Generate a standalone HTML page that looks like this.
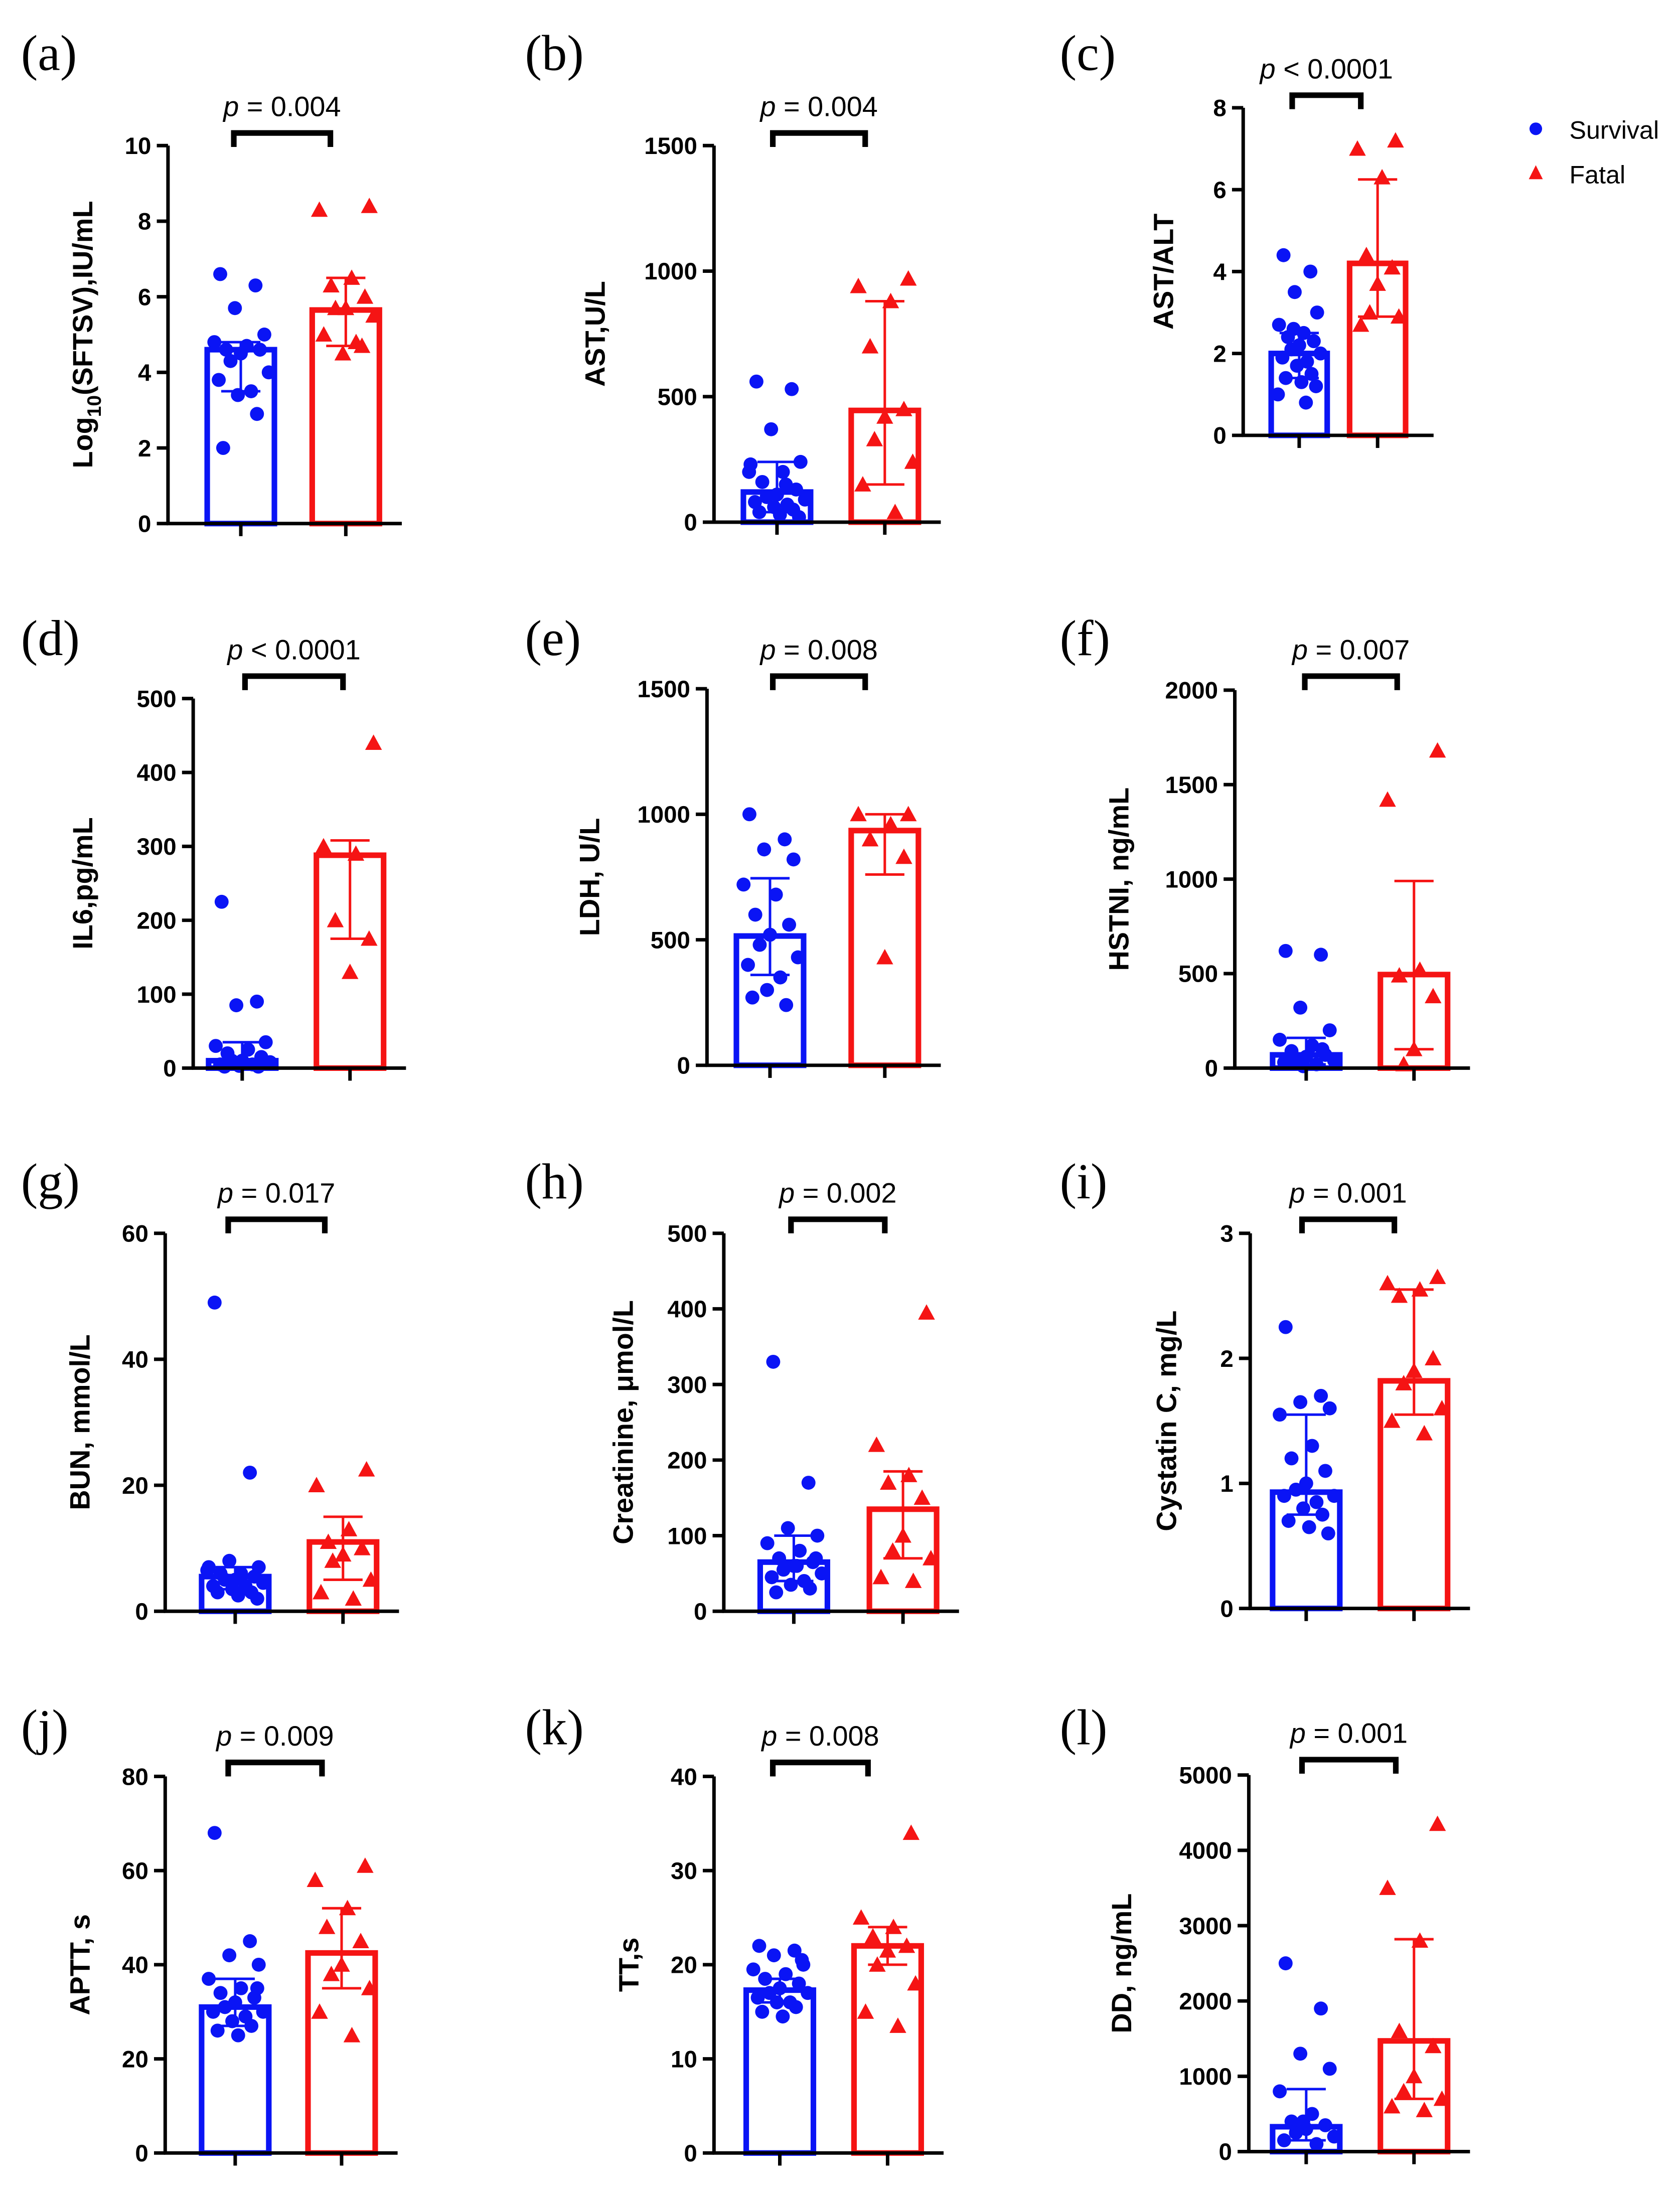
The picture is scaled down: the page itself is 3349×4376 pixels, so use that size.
<!DOCTYPE html>
<html><head><meta charset="utf-8"><style>
html,body{margin:0;padding:0;background:#fff}
svg{display:block}
</style></head><body>
<svg id="fig" xmlns="http://www.w3.org/2000/svg" width="3349" height="4376" viewBox="0 0 1200 1568"></svg>
<script>
// ---- data arrays ----
const aBlue=[6.6,6.3,5.7,5.0,4.8,4.7,4.6,4.6,4.5,4.3,4.0,3.8,3.5,3.4,2.9,2.0];
const aRed=[8.4,8.3,6.5,6.3,6.0,5.7,5.7,5.5,5.0,4.8,4.5,4.7];
const aBars=[4.6,5.65]; const aErrB=[3.5,4.8]; const aErrR=[4.7,6.5];
const bBlue=[560,530,370,240,230,200,160,130,110,100,90,80,70,60,50,40,30,20,200,150];
const bRed=[970,940,880,700,450,420,330,240,150,40];
const bBars=[120,445]; const bErrB=[40,240]; const bErrR=[150,880];
const cBlue=[4.4,4.0,3.5,3.0,2.7,2.5,2.4,2.3,2.2,2.1,2.0,1.9,1.8,1.7,1.5,1.4,1.3,1.2,1.0,0.8,2.6];
const cRed=[7.2,7.0,6.3,4.4,4.1,3.7,3.0,2.9,2.7];
const cBars=[2.0,4.2]; const cErrB=[1.4,2.5]; const cErrR=[2.9,6.25];
const dBlue=[225,90,85,35,30,25,20,15,10,10,8,5,5,3,2,2];
const dRed=[440,300,290,200,175,130];
const dBars=[10,288]; const dErrB=[2,35]; const dErrR=[175,308];
const eBlue=[1000,900,860,820,720,680,600,560,520,480,430,400,350,300,240,270];
const eRed=[1000,1000,960,900,830,430];
const eBars=[515,935]; const eErrB=[360,745]; const eErrR=[760,1000];
const fBlue=[620,600,320,200,150,120,90,70,60,50,40,30,20,10,100];
const fRed=[1680,1420,520,490,380,100,20];
const fBars=[70,495]; const fErrB=[20,160]; const fErrR=[100,990];
const gBlue=[49,22,8,7,7,6,6,5.5,5,5,4.5,4,4,3.5,3,3,2.5,2,6.5];
const gRed=[22.5,20,13,11,10,9,8,5,3,2];
const gBars=[5.5,11]; const gErrB=[3.5,7]; const gErrR=[5,15];
const hBlue=[330,170,110,100,90,80,70,65,60,55,50,45,40,35,30,25,60,70];
const hRed=[395,220,180,170,150,100,80,70,45,40];
const hBars=[65,135]; const hErrB=[40,100]; const hErrR=[70,185];
const iBlue=[2.25,1.7,1.65,1.6,1.55,1.3,1.2,1.1,1.0,0.95,0.9,0.9,0.85,0.8,0.75,0.7,0.65,0.6];
const iRed=[2.65,2.6,2.55,2.5,2.0,1.9,1.8,1.6,1.5,1.4];
const iBars=[0.93,1.82]; const iErrB=[0.75,1.55]; const iErrR=[1.55,2.55];
const jBlue=[68,45,42,40,37,35,34,33,32,31,30,30,29,28,27,26,25,35];
const jRed=[61,58,52,48,45,40,38,35,30,25];
const jBars=[31,42.5]; const jErrB=[27,37]; const jErrR=[35,52];
const kBlue=[22,21.5,21,20,19.5,19,18.5,18,17.5,17,17,16.5,16,16,15.5,15,14.5,20.5];
const kRed=[34,25,24,23,22,21.5,20,18,15,13.5];
const kBars=[17.3,22]; const kErrB=[16,18.5]; const kErrR=[20,24];
const lBlue=[2500,1900,1300,1100,800,500,400,350,300,250,200,150,100,400];
const lRed=[4350,3500,2800,1600,1400,1000,800,700,600,550];
const lBars=[330,1470]; const lErrB=[150,830]; const lErrR=[700,2820];
const tickA=[0,2,4,6,8,10], tickB=[0,500,1000,1500], tickC=[0,2,4,6,8], tickD=[0,100,200,300,400,500],
 tickE=[0,500,1000,1500], tickF=[0,500,1000,1500,2000], tickG=[0,20,40,60], tickH=[0,100,200,300,400,500],
 tickI=[0,1,2,3], tickJ=[0,20,40,60,80], tickK=[0,10,20,30,40], tickL=[0,1000,2000,3000,4000,5000];
const pLabels=["0.004","0.004","< 0.0001","< 0.0001","0.008","0.007","0.017","0.002","0.001","0.009","0.008","0.001"];

// ---- layout ----
const panels=[
 {id:'a',ax:120,y0:374,yt:104,max:10,ticks:tickA,bc:172,rc:247,hw:24,js:1.05,br:[167,236,95],lx:15,ly:50,ylx:66,label:'LOG',blue:aBlue,red:aRed,bars:aBars,eb:aErrB,er:aErrR},
 {id:'b',ax:510,y0:373,yt:104,max:1500,ticks:tickB,bc:555,rc:632,hw:24,js:1.05,br:[552,618,95],lx:375,ly:50,ylx:432,label:'AST,U/L',blue:bBlue,red:bRed,bars:bBars,eb:bErrB,er:bErrR},
 {id:'c',ax:888,y0:311,yt:77,max:8,ticks:tickC,bc:928,rc:984,hw:20,js:0.8,br:[923,972,68],lx:757,ly:50,ylx:838,label:'AST/ALT',blue:cBlue,red:cRed,bars:cBars,eb:cErrB,er:cErrR},
 {id:'d',ax:138,y0:763,yt:499,max:500,ticks:tickD,bc:173,rc:250,hw:24,js:1.05,br:[175,245,483],lx:15,ly:468,ylx:66,label:'IL6,pg/mL',blue:dBlue,red:dRed,bars:dBars,eb:dErrB,er:dErrR},
 {id:'e',ax:505,y0:761,yt:492,max:1500,ticks:tickE,bc:550,rc:632,hw:24,js:1.05,br:[552,618,483],lx:375,ly:468,ylx:428,label:'LDH, U/L',blue:eBlue,red:eRed,bars:eBars,eb:eErrB,er:eErrR},
 {id:'f',ax:882,y0:763,yt:493,max:2000,ticks:tickF,bc:933,rc:1010,hw:24,js:1.05,br:[932,998,483],lx:757,ly:468,ylx:806,label:'HSTNI, ng/mL',blue:fBlue,red:fRed,bars:fBars,eb:fErrB,er:fErrR},
 {id:'g',ax:118,y0:1151,yt:881,max:60,ticks:tickG,bc:168,rc:245,hw:24,js:1.05,br:[163,232,871],lx:15,ly:856,ylx:64,label:'BUN, mmol/L',blue:gBlue,red:gRed,bars:gBars,eb:gErrB,er:gErrR},
 {id:'h',ax:517,y0:1151,yt:881,max:500,ticks:tickH,bc:567,rc:645,hw:24,js:1.05,br:[565,632,871],lx:375,ly:856,ylx:452,label:'Creatinine, \u03bcmol/L',blue:hBlue,red:hRed,bars:hBars,eb:hErrB,er:hErrR},
 {id:'i',ax:893,y0:1149,yt:881,max:3,ticks:tickI,bc:933,rc:1010,hw:24,js:1.05,br:[930,996,871],lx:757,ly:856,ylx:840,label:'Cystatin C, mg/L',blue:iBlue,red:iRed,bars:iBars,eb:iErrB,er:iErrR},
 {id:'j',ax:118,y0:1538,yt:1269,max:80,ticks:tickJ,bc:168,rc:244,hw:24,js:1.05,br:[163,230,1259],lx:15,ly:1246,ylx:64,label:'APTT, s',blue:jBlue,red:jRed,bars:jBars,eb:jErrB,er:jErrR},
 {id:'k',ax:510,y0:1538,yt:1269,max:40,ticks:tickK,bc:557,rc:634,hw:24,js:1.05,br:[552,620,1259],lx:375,ly:1246,ylx:456,label:'TT,s',blue:kBlue,red:kRed,bars:kBars,eb:kErrB,er:kErrR},
 {id:'l',ax:892,y0:1537,yt:1268,max:5000,ticks:tickL,bc:933,rc:1010,hw:24,js:1.05,br:[930,997,1257],lx:757,ly:1246,ylx:808,label:'DD, ng/mL',blue:lBlue,red:lRed,bars:lBars,eb:lErrB,er:lErrR}
];
const svg=document.getElementById('fig');
const NS='http://www.w3.org/2000/svg';
function mk(tag,attrs,parent,text){const e=document.createElementNS(NS,tag);for(const k in attrs)e.setAttribute(k,attrs[k]);if(text!==undefined)e.textContent=text;parent.appendChild(e);return e;}
const BLUE='#0a14f5', RED='#f51414';
const jit=[-14,10,-4,16,-18,4,-10,13,0,-7,19,-15,7,-2,11,-12,2,15,-19,6,-5];
panels.forEach((p,pi)=>{
 const g=mk('g',{},svg);
 
 
 const Y=v=>p.y0-(v/p.max)*(p.y0-p.yt);
 const t=mk('text',{x:p.lx,y:p.ly,'font-family':'Liberation Serif, serif','font-size':36},g,'('+p.id+')');
 
 [[p.bc,p.bars[0],BLUE,p.eb,'blue'],[p.rc,p.bars[1],RED,p.er,'red']].forEach(([cx,v,col,err,nm])=>{
  const r=mk('rect',{x:cx-p.hw,y:Y(v),width:2*p.hw,height:p.y0-Y(v),fill:'#fff',stroke:col,'stroke-width':4},g);
  
  const eg=mk('g',{stroke:col,'stroke-width':1.8},g);
  
  mk('line',{x1:cx,x2:cx,y1:Y(err[0]),y2:Y(err[1])},eg);
  mk('line',{x1:cx-14,x2:cx+14,y1:Y(err[0]),y2:Y(err[0])},eg);
  mk('line',{x1:cx-14,x2:cx+14,y1:Y(err[1]),y2:Y(err[1])},eg);
 });
 p.blue.forEach((v,i)=>{const c=mk('circle',{cx:p.bc+jit[i%jit.length]*p.js,cy:Y(v),r:5,fill:BLUE},g);
  });
 p.red.forEach((v,i)=>{const x=p.rc+jit[(i+3)%jit.length]*p.js,y=Y(v);
  const c=mk('polygon',{points:`${x},${y-6} ${x-6},${y+5} ${x+6},${y+5}`,fill:RED},g);
  });
 const axg=mk('g',{stroke:'#000','stroke-width':2.5,fill:'none'},g);
 
 mk('line',{x1:p.ax,x2:p.ax,y1:p.yt,y2:p.y0+1},axg);
 mk('line',{x1:p.ax-1,x2:p.rc+40,y1:p.y0,y2:p.y0},axg);
 [p.bc,p.rc].forEach(cx=>mk('line',{x1:cx,x2:cx,y1:p.y0,y2:p.y0+9},axg));
 p.ticks.forEach(v=>{mk('line',{x1:p.ax-8,x2:p.ax,y1:Y(v),y2:Y(v)},axg);
  const tl=mk('text',{x:p.ax-12,y:Y(v)+6,'text-anchor':'end','font-family':'Liberation Sans, sans-serif','font-size':17,'font-weight':'bold'},g,String(v));
  });
 const yl=mk('text',{x:0,y:0,transform:`translate(${p.ylx},${(p.y0+p.yt)/2}) rotate(-90)`,'text-anchor':'middle','font-family':'Liberation Sans, sans-serif','font-size':20,'font-weight':'bold'},g);
 
 if(p.label==='LOG'){yl.appendChild(document.createTextNode('Log'));mk('tspan',{'font-size':14,dy:6},yl,'10');mk('tspan',{dy:-6},yl,'(SFTSV),IU/mL');}
 else yl.textContent=p.label;
 const [x1,x2,by]=p.br;
 const b=mk('path',{d:`M${x1},${by+10}V${by}H${x2}V${by+10}`,stroke:'#000','stroke-width':4,fill:'none'},g);
 
 const pt=mk('text',{x:(x1+x2)/2,y:by-12,'text-anchor':'middle','font-family':'Liberation Sans, sans-serif','font-size':20},g);
 
 mk('tspan',{'font-style':'italic'},pt,'p');pt.appendChild(document.createTextNode(' '+(pLabels[pi].startsWith('<')?'':'= ')+pLabels[pi]));
});
const lg=mk('g',{},svg);

const l1=mk('circle',{cx:1097,cy:92,r:4.5,fill:BLUE},lg);

const lt1=mk('text',{x:1121,y:99,'font-family':'Liberation Sans, sans-serif','font-size':18},lg,'Survival');

const l2=mk('polygon',{points:'1097,118 1092,128 1102,128',fill:RED},lg);

const lt2=mk('text',{x:1121,y:131,'font-family':'Liberation Sans, sans-serif','font-size':18},lg,'Fatal');

</script>
</body></html>
